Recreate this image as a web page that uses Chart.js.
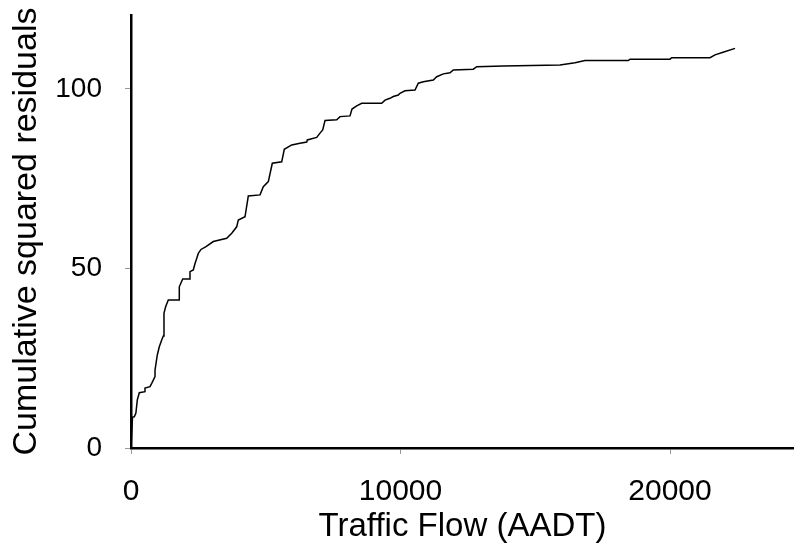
<!DOCTYPE html>
<html>
<head>
<meta charset="utf-8">
<script src="https://cdn.jsdelivr.net/npm/chart.js@4/dist/chart.umd.min.js"></script>
<style>
  body { margin: 0; background: #fff; }
  canvas { display: block; }
</style>
</head>
<body>
<canvas id="residualChart" width="794" height="550"></canvas>
<script>
// cumulative squared residuals against traffic flow
const flowValues = [
  0, 56, 122, 182, 234, 308, 519, 519, 705, 768,
  891, 891, 976, 1050, 1139, 1199, 1224, 1288, 1384, 1792,
  1792, 1918, 2163, 2189, 2312, 2375, 2438, 2497, 2597, 2783,
  3054, 3551, 3737, 3922, 3981, 4230, 4330, 4352, 4787, 4909,
  5095, 5243, 5592, 5688, 5963, 6271, 6520, 6542, 6891, 7013,
  7113, 7199, 7633, 7755, 8126, 8200, 8375, 8560, 9302, 9425,
  9610, 9733, 9918, 9981, 10167, 10538, 10660, 10846, 11217, 11343,
  11588, 11837, 11959, 12701, 12827, 13814, 15918, 16475, 16846, 18453,
  18516, 20000, 20063, 21484, 21670, 21967, 22412
];
const residualValues = [
  0, 8.6, 8.7, 9.7, 13.4, 15.4, 15.7, 16.7, 17.1, 18.0,
  19.9, 21.7, 25.9, 28.2, 30.1, 31.2, 37.6, 39.4, 41.2, 41.2,
  44.9, 47.1, 47.1, 49.1, 49.6, 51.4, 52.8, 54.2, 55.3, 56.1,
  57.5, 58.4, 59.8, 61.6, 63.5, 64.4, 69.1, 70.2, 70.5, 72.8,
  74.2, 79.3, 79.7, 83.2, 84.4, 84.9, 85.2, 85.8, 86.5, 87.7,
  88.6, 91.2, 91.4, 92.3, 92.5, 94.4, 95.3, 96.0, 96.0, 96.9,
  97.4, 97.9, 98.3, 98.8, 99.5, 99.7, 101.6, 102.0, 102.5, 103.4,
  104.2, 104.5, 105.3, 105.5, 106.2, 106.4, 106.7, 107.3, 107.9, 107.9,
  108.3, 108.3, 108.7, 108.7, 109.5, 110.2, 111.3
];
const xTicks = [0, 10000, 20000];
const yTicks = [0, 50, 100];

const points = flowValues.map((v, i) => ({ x: v, y: residualValues[i] }));
const fontFamily = '"Liberation Sans", Arial, sans-serif';

new Chart('residualChart', {
  type: 'scatter',
  data: {
    datasets: [{
      data: points,
      showLine: true,
      borderColor: '#000',
      borderWidth: 1.5,
      pointRadius: 0,
      tension: 0
    }]
  },
  options: {
    responsive: false,
    animation: false,
    layout: { padding: { top: 15, right: 0, bottom: 0, left: 0 } },
    plugins: {
      legend: { display: false },
      tooltip: { enabled: false }
    },
    scales: {
      x: {
        type: 'linear',
        min: 0,
        max: 24600,
        afterBuildTicks: scale => { scale.ticks = xTicks.map(v => ({ value: v })) },
        afterFit: scale => { scale.height = 102 },
        border: { color: '#000', width: 2.5 },
        grid: { drawOnChartArea: false, color: '#999', tickLength: 6 },
        ticks: {
          color: '#000',
          padding: 20,
          maxRotation: 0,
          callback: v => String(v),
          font: { family: fontFamily, size: 30 }
        },
        title: {
          display: true,
          text: 'Traffic Flow (AADT)',
          color: '#000',
          padding: { top: 0, bottom: 3 },
          font: { family: fontFamily, size: 33 }
        }
      },
      y: {
        type: 'linear',
        min: 0,
        max: 120.6,
        afterBuildTicks: scale => { scale.ticks = yTicks.map(v => ({ value: v })) },
        afterFit: scale => {
          scale.width = 131;
          scale.paddingTop = 0;
          scale.paddingBottom = 0;
        },
        border: { color: '#000', width: 2.5 },
        grid: { drawOnChartArea: false, color: '#999', tickLength: 6 },
        ticks: {
          color: '#000',
          padding: 23,
          callback: v => String(v),
          font: { family: fontFamily, size: 28 }
        },
        title: {
          display: true,
          text: 'Cumulative squared residuals',
          color: '#000',
          padding: { top: 6, bottom: 0 },
          font: { family: fontFamily, size: 34 }
        }
      }
    }
  }
});
</script>
</body>
</html>
